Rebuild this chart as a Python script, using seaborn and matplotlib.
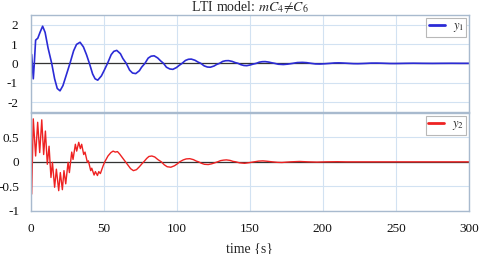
import matplotlib
matplotlib.use("Agg")
import matplotlib.pyplot as plt
import seaborn as sns
import pandas as pd

# ---- data ----
t1 = [0, 0.3, 0.8, 1.9, 2.6, 3.5, 5.0, 6.5, 8.3, 10.0, 12.0, 14.5, 16.5, 18.3, 20.2,
      22.2, 24.5, 27.0, 29.5, 31.5, 33.9, 36.2, 38.3, 40.3, 42.5, 44.2, 46.0, 48.5,
      50.5, 52.7, 55.2, 57.0, 59.0, 61.5, 63.2, 65.5, 67.8, 69.8, 72.0, 74.5, 76.0,
      78.3, 80.5, 82.5, 84.6, 87.0, 89.0, 91.0, 93.0, 95.3, 97.4, 99.8, 101.8, 103.7,
      106.0, 108.0, 110.0, 112.5, 114.5, 116.5, 118.8, 121.0, 123.0, 125.5, 127.3,
      129.3, 131.5, 133.5, 135.5, 138.0, 140.0, 142.0, 144.0, 146.0, 148.0, 150.5,
      152.5, 154.5, 156.5, 158.5, 160.6, 163.0, 165.0, 167.0, 169.5, 173.0, 176.0,
      179.5, 182.5, 186.0, 189.0, 192.0, 195.0, 198.0, 201.5, 205.0, 208.0, 211.0,
      214.0, 217.5, 221.0, 224.0, 227.0, 230.0, 233.0, 237.0, 240.0, 243.0, 246.0,
      249.0, 253.0, 256.0, 262.0, 268.0, 275.0, 281.0, 288.0, 294.0, 300.0]
y1 = [0.0, 0.5, 0.45, -0.8, 0.0, 1.2, 1.3, 1.6, 1.92, 1.6, 0.8, 0.0, -0.8, -1.3, -1.42,
      -1.15, -0.6, 0.0, 0.65, 0.98, 1.09, 0.85, 0.45, 0.0, -0.55, -0.8, -0.87, -0.65,
      -0.35, 0.0, 0.45, 0.62, 0.67, 0.5, 0.25, 0.0, -0.35, -0.5, -0.53, -0.38, -0.2,
      0.0, 0.27, 0.37, 0.39, 0.28, 0.13, 0.0, -0.2, -0.29, -0.31, -0.22, -0.1, 0.0,
      0.15, 0.21, 0.22, 0.16, 0.07, 0.0, -0.13, -0.19, -0.2, -0.14, -0.06,
      0.0, 0.1, 0.135, 0.14, 0.1, 0.04, 0.0, -0.07, -0.11, -0.12, -0.08,
      -0.035, 0.0, 0.06, 0.085, 0.09, 0.065, 0.03, 0.0, -0.045, -0.06, -0.04,
      0.0, 0.04, 0.05, 0.035, 0.0, -0.03, -0.035, -0.02, 0.0, 0.02, 0.025,
      0.015, 0.0, -0.015, -0.018, -0.01, 0.0, 0.012, 0.013, 0.008, 0.0, -0.008,
      -0.009, -0.005, 0.0, 0.006, 0.0, -0.004, 0.0, 0.003, 0.0, 0.0]

t2 = [0, 0.8, 1.9, 3.5, 4.9, 6.3, 7.7, 9.0, 10.2, 11.5, 12.7, 14.0, 15.0, 16.5, 17.7,
      19.3, 20.4, 21.8, 22.9, 24.1, 25.7, 26.6, 28.2, 29.1, 30.7, 31.6, 33.0, 34.1,
      35.0, 36.4, 37.3, 38.9, 39.6, 41.2, 41.9, 43.5, 44.4, 45.8, 46.7, 47.8, 49.7,
      50.8, 53.0, 55.0, 56.5, 58.0, 59.5, 61.0, 63.0, 65.0, 67.0, 68.5, 70.4, 72.5,
      74.5, 76.5, 77.5, 79.5, 81.0, 83.0, 85.0, 87.0, 89.5, 91.5, 93.5, 96.0, 98.5,
      100.5, 102.0, 104.5, 106.5, 109.0, 111.5, 113.5, 115.0, 117.0, 119.0, 121.6,
      124.0, 126.0, 128.0, 130.0, 132.0, 134.0, 136.5, 138.5, 140.5, 143.0, 146.5,
      150.0, 153.0, 156.0, 159.0, 162.0, 165.5, 169.0, 172.0, 175.0, 178.0, 184.0,
      190.0, 196.0, 202.0, 210.0, 216.0, 230.0, 300.0]
y2 = [0.0, -0.66, 0.88, 0.12, 0.81, 0.19, 0.86, 0.15, 0.63, -0.05, 0.32, -0.32, -0.01,
      -0.52, -0.15, -0.59, -0.22, -0.57, -0.18, -0.45, -0.01, -0.22, 0.2, 0.05, 0.36,
      0.22, 0.4, 0.27, 0.36, 0.15, 0.2, -0.01, 0.02, -0.18, -0.13, -0.27, -0.2, -0.28,
      -0.2, -0.24, -0.08, 0.0, 0.12, 0.19, 0.22, 0.2, 0.21, 0.16, 0.08, 0.0, -0.08,
      -0.14, -0.18, -0.16, -0.1, -0.03, 0.0, 0.07, 0.11, 0.12, 0.1, 0.05, 0.0, -0.06,
      -0.1, -0.11, -0.08, -0.04, 0.0, 0.04, 0.06, 0.065, 0.045, 0.015, 0.0, -0.03,
      -0.05, -0.055, -0.04, -0.02, 0.0, 0.025, 0.035, 0.04, 0.03, 0.01, 0.0, -0.02,
      -0.03, -0.015, 0.0, 0.015, 0.02, 0.012, 0.0, -0.01, -0.013, -0.006, 0.0, 0.008,
      0.0, -0.005, 0.0, 0.003, 0.0, 0.0, 0.0]

x_ticks = [0, 50, 100, 150, 200, 250, 300]
y1_ticks = [-2, -1, 0, 1, 2]
y2_ticks = [-1, -0.5, 0, 0.5]
y2_ticklabels = ["-1", "-0.5", "0", "0.5"]
title = r"LTI model: $mC_4\!\neq\!C_6$"
xlabel = "time {s}"

df1 = pd.DataFrame({"t": t1, "y": y1})
df2 = pd.DataFrame({"t": t2, "y": y2})

sns.set_theme(style="white")
plt.rcParams["font.family"] = ["Liberation Serif", "DejaVu Serif"]
plt.rcParams["mathtext.fontset"] = "stix"

W, H = 484, 254
fig = plt.figure(figsize=(W / 100, H / 100), dpi=100)
fig.patch.set_facecolor("white")

def frac(l, t, r, b):
    return [l / W, 1 - b / H, (r - l) / W, (b - t) / H]

ax1 = fig.add_axes(frac(30.5, 15, 469, 111.7))
ax2 = fig.add_axes(frac(30.5, 113, 469, 210.7))

frame_col = "#a8bace"
grid_col = "#d2e2f2"

sns.lineplot(data=df1, x="t", y="y", ax=ax1, color="#2b2bd6", lw=1.2,
             label="$y_1$", estimator=None, sort=False)
sns.lineplot(data=df2, x="t", y="y", ax=ax2, color="#ee2222", lw=1.0,
             label="$y_2$", estimator=None, sort=False)

for ax in (ax1, ax2):
    ax.set_xlim(0, 300)
    ax.set_xticks(x_ticks)
    ax.grid(True, color=grid_col, lw=0.8)
    ax.set_axisbelow(True)
    ax.axhline(0, color="#333333", lw=0.9, zorder=1.5)
    for s in ax.spines.values():
        s.set_color(frame_col)
        s.set_linewidth(1.0)
    ax.tick_params(length=0, labelsize=9.5, colors="#111111")
    ax.set_xlabel("")
    ax.set_ylabel("")
    leg = ax.legend(loc="upper right", fontsize=9, frameon=True, fancybox=False,
                    handlelength=1.3, handletextpad=0.6, borderpad=0.2,
                    borderaxespad=0.2, edgecolor="#b8b8b8", framealpha=1)
    leg.get_frame().set_linewidth(0.8)
    for h in leg.get_lines():
        h.set_linewidth(2.0)

ax1.set_ylim(-2.5, 2.5)
ax1.set_yticks(y1_ticks)
ax1.set_yticklabels([str(v) for v in y1_ticks])
ax1.tick_params(axis="x", labelbottom=False)
ax1.tick_params(axis="y", pad=9)

ax2.set_ylim(-1, 1.0)
ax2.set_yticks(y2_ticks)
ax2.set_yticklabels(y2_ticklabels)
ax2.tick_params(axis="y", pad=8)
ax2.tick_params(axis="x", pad=9)
ax2.set_xlabel(xlabel, fontsize=10, labelpad=5)

ax1.set_title(title, fontsize=10, pad=3)

fig.savefig("out.png", dpi=100, facecolor="white")
